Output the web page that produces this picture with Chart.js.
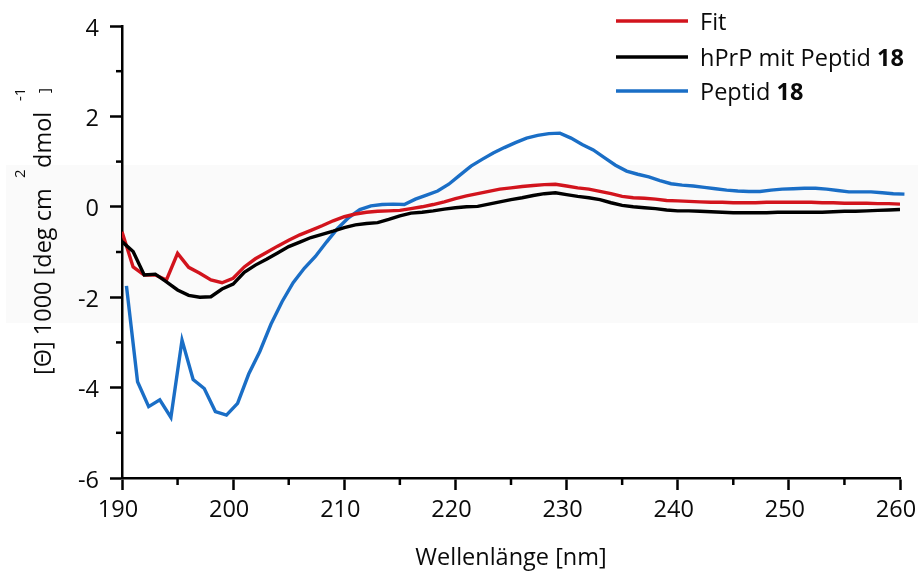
<!DOCTYPE html>
<html>
<head>
<meta charset="utf-8">
<script src="https://cdn.jsdelivr.net/npm/chart.js@4/dist/chart.umd.min.js"></script>
<style>
  html, body { margin: 0; padding: 0; background: #ffffff; }
  #wrap { width: 918px; height: 571px; }
</style>
</head>
<body>
<div id="wrap"><canvas id="cd" width="918" height="571"></canvas></div>
<script>
// Wavelength grid (nm) of the complex measurement and the fit
const wavelengths = [
  190, 191, 192, 193, 194, 195, 196, 197, 198, 199,
  200, 201, 202, 203, 204, 205, 206, 207, 208, 209,
  210, 211, 212, 213, 214, 215, 216, 217, 218, 219,
  220, 221, 222, 223, 224, 225, 226, 227, 228, 229,
  230, 231, 232, 233, 234, 235, 236, 237, 238, 239,
  240, 241, 242, 243, 244, 245, 246, 247, 248, 249,
  250, 251, 252, 253, 254, 255, 256, 257, 258, 259, 260
];

// Wavelength grid (nm) of the free peptide spectrum
const peptideWavelengths = [
  190.4, 191.4, 192.4, 193.4, 194.4, 195.4, 196.4, 197.4, 198.4, 199.4,
  200.4, 201.4, 202.4, 203.4, 204.4, 205.4, 206.4, 207.4, 208.4, 209.4,
  210.4, 211.4, 212.4, 213.4, 214.4, 215.4, 216.4, 217.4, 218.4, 219.4,
  220.4, 221.4, 222.4, 223.4, 224.4, 225.4, 226.4, 227.4, 228.4, 229.4,
  230.4, 231.4, 232.4, 233.4, 234.4, 235.4, 236.4, 237.4, 238.4, 239.4,
  240.4, 241.4, 242.4, 243.4, 244.4, 245.4, 246.4, 247.4, 248.4, 249.4,
  250.4, 251.4, 252.4, 253.4, 254.4, 255.4, 256.4, 257.4, 258.4, 259.4, 260.4
];

// Mean residue ellipticity / 1000
const fitValues = [
  -0.55, -1.33, -1.51, -1.51, -1.62, -1.03, -1.34, -1.47, -1.62, -1.68,
  -1.58, -1.33, -1.15, -1.01, -0.87, -0.74, -0.62, -0.52, -0.42, -0.31,
  -0.22, -0.16, -0.12, -0.10, -0.09, -0.08, -0.04, 0.00, 0.05, 0.11,
  0.18, 0.24, 0.29, 0.34, 0.39, 0.42, 0.45, 0.47, 0.49, 0.50,
  0.46, 0.42, 0.39, 0.34, 0.29, 0.23, 0.20, 0.19, 0.17, 0.14,
  0.13, 0.12, 0.11, 0.10, 0.10, 0.09, 0.09, 0.09, 0.10, 0.10,
  0.10, 0.10, 0.10, 0.09, 0.09, 0.08, 0.08, 0.08, 0.07, 0.07, 0.06
];

const complexValues = [
  -0.77, -0.99, -1.51, -1.49, -1.66, -1.84, -1.96, -2.00, -1.99, -1.82,
  -1.71, -1.45, -1.29, -1.16, -1.02, -0.88, -0.78, -0.68, -0.61, -0.54,
  -0.46, -0.40, -0.37, -0.35, -0.28, -0.20, -0.14, -0.12, -0.09, -0.05,
  -0.02, 0.00, 0.01, 0.06, 0.11, 0.16, 0.20, 0.25, 0.29, 0.31,
  0.27, 0.23, 0.20, 0.16, 0.09, 0.03, 0.00, -0.02, -0.04, -0.07,
  -0.09, -0.09, -0.10, -0.11, -0.12, -0.13, -0.13, -0.13, -0.13, -0.12,
  -0.12, -0.12, -0.12, -0.12, -0.11, -0.10, -0.10, -0.09, -0.08, -0.07, -0.06
];

const peptideValues = [
  -1.75, -3.87, -4.42, -4.27, -4.66, -2.95, -3.82, -4.02, -4.53, -4.61,
  -4.35, -3.70, -3.20, -2.60, -2.10, -1.68, -1.36, -1.10, -0.78, -0.48,
  -0.24, -0.06, 0.02, 0.05, 0.06, 0.05, 0.17, 0.26, 0.35, 0.50,
  0.70, 0.90, 1.05, 1.19, 1.31, 1.42, 1.52, 1.58, 1.62, 1.63,
  1.52, 1.38, 1.26, 1.09, 0.92, 0.79, 0.72, 0.66, 0.58, 0.51,
  0.48, 0.46, 0.43, 0.40, 0.37, 0.35, 0.34, 0.34, 0.37, 0.39,
  0.40, 0.41, 0.41, 0.39, 0.36, 0.33, 0.33, 0.33, 0.31, 0.29, 0.28
];

// Axis ticks
const xMajorTicks = [190, 200, 210, 220, 230, 240, 250, 260];
const xMinorTicks = [195, 205, 215, 225, 235, 245, 255];
const yMajorTicks = [4, 2, 0, -2, -4, -6];
const yMinorTicks = [3, 1, -1, -3, -5];

// Legend entries: plain part and bold part of each label
const legendLabels = [
  ['Fit', ''],
  ['hPrP mit Peptid ', '18'],
  ['Peptid ', '18']
];

const FONT = '"Open Sans", "Noto Sans", sans-serif';
const COLORS = ['#d2141d', '#000000', '#1a6ec6'];
const TEXT = '#0a0a0a';

function points(xs, ys) {
  return xs.map((x, i) => ({ x: x, y: ys[i] }));
}

// Background, faint band, minor ticks, axis titles and legend
const decorations = {
  id: 'decorations',
  beforeDraw(chart) {
    const ctx = chart.ctx;
    ctx.save();
    ctx.fillStyle = '#ffffff';
    ctx.fillRect(0, 0, chart.width, chart.height);
    ctx.fillStyle = '#fafafa';
    ctx.fillRect(6, 165, chart.width - 6, 158);
    ctx.restore();
  },
  afterDraw(chart) {
    const ctx = chart.ctx;
    const xs = chart.scales.x, ys = chart.scales.y;
    const area = chart.chartArea;
    ctx.save();
    ctx.strokeStyle = '#000';
    ctx.lineWidth = 2.5;
    ctx.lineCap = 'butt';
    xMinorTicks.forEach(v => {
      const px = xs.getPixelForValue(v);
      ctx.beginPath();
      ctx.moveTo(px, area.bottom);
      ctx.lineTo(px, area.bottom + 7);
      ctx.stroke();
    });
    yMinorTicks.forEach(v => {
      const py = ys.getPixelForValue(v);
      ctx.beginPath();
      ctx.moveTo(area.left - 6, py);
      ctx.lineTo(area.left, py);
      ctx.stroke();
    });

    // x axis title
    ctx.fillStyle = TEXT;
    ctx.font = '23.5px ' + FONT;
    ctx.textAlign = 'center';
    ctx.textBaseline = 'alphabetic';
    ctx.fillText('Wellenlänge [nm]', (area.left + area.right) / 2, 565);

    // y axis title, rotated, with superscripts
    ctx.save();
    ctx.translate(51, 375);
    ctx.rotate(-Math.PI / 2);
    ctx.textAlign = 'left';
    ctx.font = '23.5px ' + FONT;
    ctx.fillText('[\u0398] 1000 [deg cm', 0, 0);
    ctx.fillText('dmol', 207, 0);
    ctx.font = '15px ' + FONT;
    ctx.fillText('2', 197, -26);
    ctx.fillText('-1', 274, -26);
    ctx.fillText(']', 282, -2);
    ctx.restore();

    // legend
    const rows = [21, 57, 91];
    legendLabels.forEach((lab, i) => {
      const y = rows[i];
      ctx.strokeStyle = COLORS[i];
      ctx.lineWidth = 3.4;
      ctx.beginPath();
      ctx.moveTo(616, y);
      ctx.lineTo(688, y);
      ctx.stroke();
      ctx.fillStyle = TEXT;
      ctx.textAlign = 'left';
      ctx.textBaseline = 'alphabetic';
      ctx.font = '23.5px ' + FONT;
      ctx.fillText(lab[0], 700, y + 9);
      if (lab[1]) {
        const w = ctx.measureText(lab[0]).width;
        ctx.font = 'bold 23.5px ' + FONT;
        ctx.fillText(lab[1], 700 + w, y + 9);
      }
    });
    ctx.restore();
  }
};

function build() {
  const tickFont = { family: FONT, size: 23.5 };
  new Chart(document.getElementById('cd'), {
    type: 'line',
    data: {
      datasets: [
        { label: 'Fit', data: points(wavelengths, fitValues),
          borderColor: COLORS[0], borderWidth: 3.4, pointRadius: 0, tension: 0, order: 2 },
        { label: 'hPrP mit Peptid 18', data: points(wavelengths, complexValues),
          borderColor: COLORS[1], borderWidth: 3.4, pointRadius: 0, tension: 0, order: 1 },
        { label: 'Peptid 18', data: points(peptideWavelengths, peptideValues),
          borderColor: COLORS[2], borderWidth: 3.4, pointRadius: 0, tension: 0, order: 3, clip: false }
      ]
    },
    options: {
      responsive: false,
      devicePixelRatio: 1,
      animation: false,
      layout: { padding: { top: 26, right: 18, left: 0, bottom: 0 } },
      plugins: { legend: { display: false }, tooltip: { enabled: false }, title: { display: false } },
      scales: {
        x: {
          type: 'linear', min: 190, max: 260,
          afterBuildTicks(scale) { scale.ticks = xMajorTicks.map(v => ({ value: v })); },
          afterFit(scale) { scale.height = 93; scale.paddingLeft = 0; scale.paddingRight = 0; },
          ticks: { font: tickFont, color: TEXT, padding: 6, labelOffset: -4, maxRotation: 0, autoSkip: false },
          grid: { drawOnChartArea: false, drawTicks: true, tickLength: 12, tickWidth: 2.5, tickColor: '#000' },
          border: { display: true, color: '#000', width: 2.5 }
        },
        y: {
          type: 'linear', min: -6, max: 4,
          afterBuildTicks(scale) { scale.ticks = yMajorTicks.map(v => ({ value: v })); },
          afterFit(scale) { scale.width = 122; scale.paddingTop = 0; scale.paddingBottom = 0; },
          ticks: { font: tickFont, color: TEXT, padding: 11, labelOffset: 3, autoSkip: false },
          grid: { drawOnChartArea: false, drawTicks: true, tickLength: 12, tickWidth: 2.5, tickColor: '#000' },
          border: { display: true, color: '#000', width: 2.5 }
        }
      }
    },
    plugins: [decorations]
  });
}

Promise.all([
  document.fonts.load('23.5px "Open Sans"'),
  document.fonts.load('bold 23.5px "Open Sans"'),
  document.fonts.load('15px "Open Sans"')
]).then(build, build);
</script>
</body>
</html>
